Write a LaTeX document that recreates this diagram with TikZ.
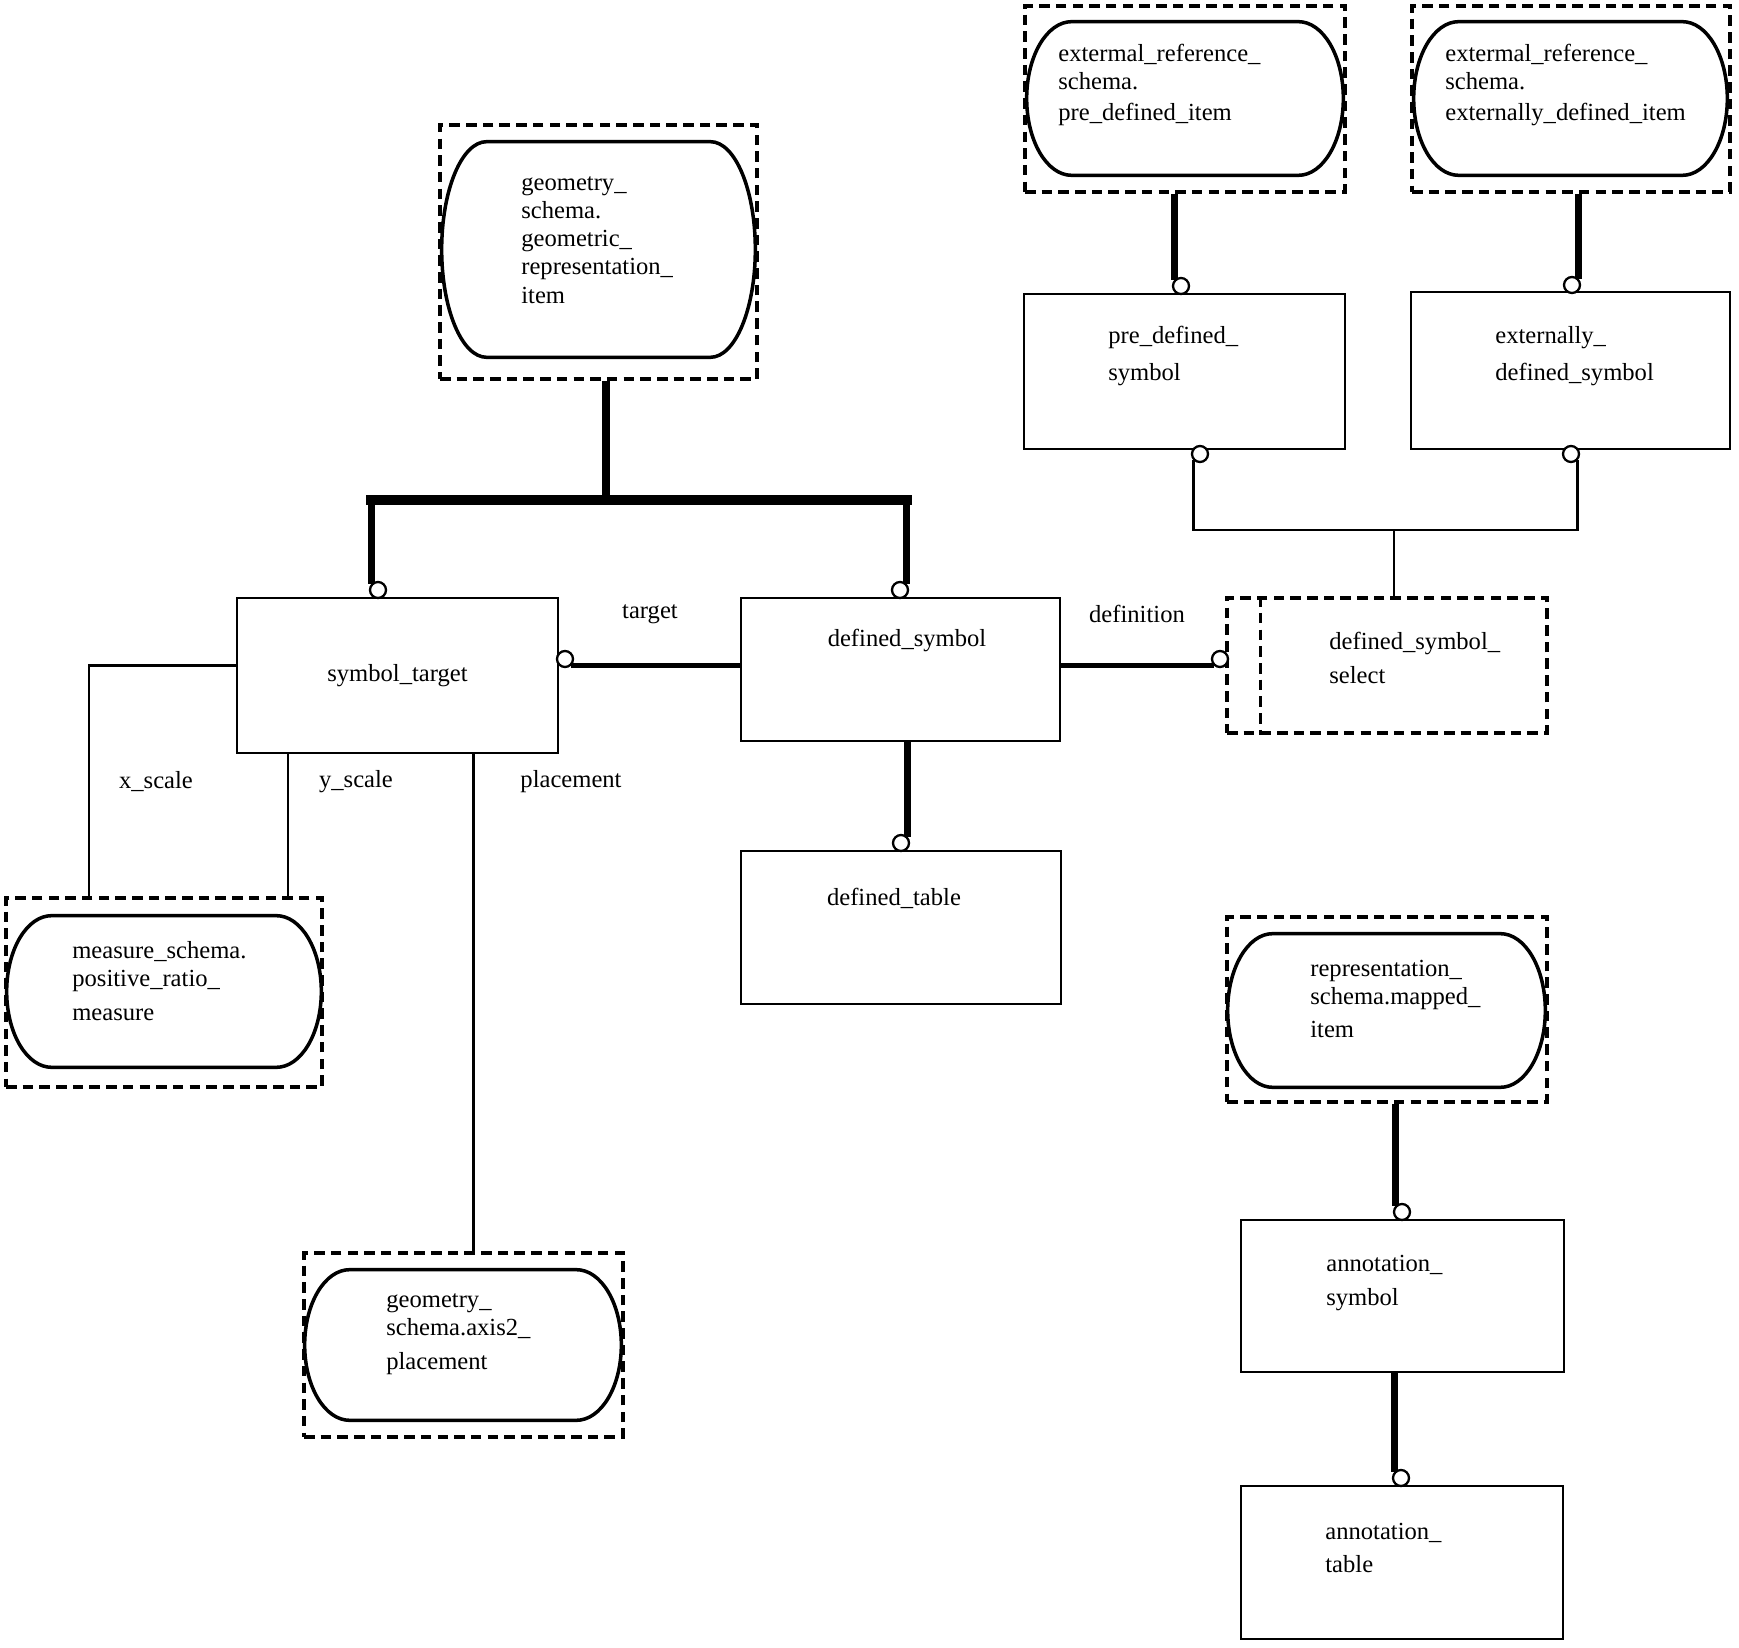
\documentclass[tikz,border=0pt]{standalone}
\usepackage{fontspec}
\setmainfont{Liberation Serif}
\usepackage{tikz}
\usetikzlibrary{calc}
\pgfdeclarelayer{bg}
\pgfsetlayers{bg,main}

\begin{document}
\begin{tikzpicture}[x=0.02cm,y=-0.02cm]
    \tikzstyle{every node}=[font=\fontsize{14}{16}\selectfont,inner sep=0pt]
    \tikzstyle{entity}=[draw,line width=1.6pt]
    \tikzstyle{extbox}=[draw,line width=2pt,dash pattern=on 6pt off 3.5pt]
    \tikzstyle{itembox}=[rectangle]
    \tikzstyle{itemline}=[line width=2pt]
    \tikzstyle{txt}=[anchor=west,align=left]
    \tikzstyle{ring}=[draw,circle,fill=white,line width=1.3pt,minimum size=0.32cm]
    \tikzstyle{heavy}=[line width=4pt]
    \tikzstyle{bar}=[line width=6pt]
    \tikzstyle{mid}=[line width=2.4pt]
    \tikzstyle{link}=[line width=1.4pt]
    \useasboundingbox (0,0) rectangle (1739,1648);

    % geometric representation item
    \node[extbox,minimum width=6.34cm,minimum height=5.08cm] (geomext) at (598.5,252) {};
    \node[itembox,minimum width=6.26cm,minimum height=4.3cm] (geomitem) at (598.5,249.5) {};
    \node[txt] (geomtxt) at (521,240) {geometry\_\\schema.\\geometric\_\\representation\_\\item};

    % pre defined item
    \node[extbox,minimum width=6.4cm,minimum height=3.72cm] (extpre) at (1185,99) {};
    \node[itembox,minimum width=6.32cm,minimum height=3.06cm] (preitem) at (1185,98.5) {};
    \node[txt] (pretxt) at (1058,85) {extermal\_reference\_\\schema.\\[2pt]pre\_defined\_item};

    % externally defined item
    \node[extbox,minimum width=6.36cm,minimum height=3.72cm] (extext) at (1571,99) {};
    \node[itembox,minimum width=6.26cm,minimum height=3.06cm] (extdefitem) at (1570.5,98.5) {};
    \node[txt] (exttxt) at (1445,85) {extermal\_reference\_\\schema.\\[2pt]externally\_defined\_item};

    % pre defined symbol
    \node[entity,minimum width=6.42cm,minimum height=3.1cm] (predef) at (1184.5,371.5) {};
    \node[txt] (predeftxt) at (1108,356) {pre\_defined\_\\[5pt]symbol};
    \node[ring] (pd-top) at (1181,286) {};
    \node[ring] (pd-bot) at (1200,454) {};

    % externally defined symbol
    \node[entity,minimum width=6.38cm,minimum height=3.14cm] (extdef) at (1570.5,370.5) {};
    \node[txt] (extdeftxt) at (1495,356) {externally\_\\[5pt]defined\_symbol};
    \node[ring] (ed-top) at (1572,285) {};
    \node[ring] (ed-bot) at (1571,454) {};

    % symbol target
    \node[entity,minimum width=6.42cm,minimum height=3.1cm] (symtarget) at (397.5,675.5) {symbol\_target};
    \node[ring] (st-top) at (378,590) {};
    \node[ring] (st-right) at (565,659) {};

    % defined symbol
    \node[entity,minimum width=6.38cm,minimum height=2.86cm] (defsym) at (900.5,669.5) {};
    \node (defsymtxt) at (907,640) {defined\_symbol};
    \node[ring] (ds-top) at (900,590) {};

    % defined symbol select
    \node[extbox,minimum width=6.4cm,minimum height=2.7cm] (defselect) at (1387,665.5) {};
    \draw[extbox] ([xshift=0.7cm]defselect.north west) -- ([xshift=0.7cm]defselect.south west);
    \node[txt] (defselecttxt) at (1329,658) {defined\_symbol\_\\[3pt]select};
    \node[ring] (sel-left) at (1220,659) {};

    % defined table
    \node[entity,minimum width=6.4cm,minimum height=3.06cm] (deftable) at (901,927.5) {};
    \node (deftabletxt) at (894,898) {defined\_table};
    \node[ring] (tb-top) at (901,843) {};

    % positive ratio measure
    \node[extbox,minimum width=6.32cm,minimum height=3.78cm] (measext) at (164,992.5) {};
    \node[itembox,minimum width=6.28cm,minimum height=3.02cm] (measitem) at (164,991.5) {};
    \node[txt] (meastxt) at (72,981) {measure\_schema.\\positive\_ratio\_\\[3pt]measure};

    % axis2 placement
    \node[extbox,minimum width=6.38cm,minimum height=3.68cm] (axisext) at (463.5,1345) {};
    \node[itembox,minimum width=6.32cm,minimum height=3.0cm] (axisitem) at (463,1345) {};
    \node[txt] (axistxt) at (386,1334) {geometry\_\\schema.axis2\_\\[3pt]placement};

    % mapped item
    \node[extbox,minimum width=6.4cm,minimum height=3.7cm] (mapext) at (1387,1009.5) {};
    \node[itembox,minimum width=6.34cm,minimum height=3.06cm] (mapitem) at (1386.5,1010.5) {};
    \node[txt] (maptxt) at (1310,999) {representation\_\\schema.mapped\_\\[3pt]item};

    % annotation symbol
    \node[entity,minimum width=6.46cm,minimum height=3.04cm] (annsym) at (1402.5,1296) {};
    \node[txt] (annsymtxt) at (1326,1283) {annotation\_\\[3pt]symbol};
    \node[ring] (an-top) at (1402,1212) {};

    % annotation table
    \node[entity,minimum width=6.44cm,minimum height=3.06cm] (anntable) at (1402,1562.5) {};
    \node[txt] (anntabletxt) at (1325,1548) {annotation\_\\[3pt]table};
    \node[ring] (at-top) at (1401,1478) {};

    % item outlines with elliptic ends
    \foreach \i in {geomitem,preitem,extdefitem,measitem,axisitem,mapitem}
        \draw[itemline] let \p1=(\i.north), \p2=(\i.south), \n1={0.5*(\y1-\y2)} in
            ([xshift=0.9cm]\i.north west) -- ([xshift=-0.9cm]\i.north east)
            arc[start angle=90,end angle=-90,x radius=0.9cm,y radius=\n1*1pt]
            -- ([xshift=0.9cm]\i.south west)
            arc[start angle=270,end angle=90,x radius=0.9cm,y radius=\n1*1pt] -- cycle;

    % role names
    \node (lbl-target) at (650,614) {target};
    \node (lbl-definition) at (1137,614) {definition};
    \node (lbl-xscale) at (156,782) {x\_scale};
    \node (lbl-yscale) at (356,782) {y\_scale};
    \node (lbl-placement) at (571,782) {placement};

    \begin{pgfonlayer}{bg}
    % supertype tree
    \coordinate (fork) at (606,500);
    \draw[heavy] (geomext.south -| fork) -- (fork);
    \draw[bar,line cap=rect] (st-top.north west |- fork) -- (ds-top.north east |- fork);
    \draw[heavy] (st-top.north west |- fork) -- (st-top.north west);
    \draw[heavy] (ds-top.north east |- fork) -- (ds-top.north east);

    % external items
    \draw[heavy] (pd-top.north west |- extpre.south) -- (pd-top.north west);
    \draw[heavy] (ed-top.north east |- extext.south) -- (ed-top.north east);

    % select tree
    \coordinate (join) at (1394,530);
    \draw[link] (pd-bot.south west) |- (join) -| (ed-bot.south east);
    \draw[link] (join) -- (join |- defselect.north);

    % target and definition
    \draw[mid] (st-right.south east) -- (st-right.south east -| defsym.west);
    \draw[mid] (sel-left.south west -| defsym.east) -- (sel-left.south west);

    % defined table
    \draw[heavy] (tb-top.north east |- defsym.south) -- (tb-top.north east);

    % scales and placement
    \draw[link] (symtarget.west |- st-right.south east) -| ([xshift=-1.5cm]measext.north);
    \draw[link] ([xshift=-2.19cm]symtarget.south) -- ([xshift=-2.19cm]symtarget.south |- measext.north);
    \draw[link] ([xshift=1.52cm]symtarget.south) -- ([xshift=1.52cm]symtarget.south |- axisext.north);

    % annotation
    \draw[heavy] (an-top.north west |- mapext.south) -- (an-top.north west);
    \draw[heavy] (at-top.north west |- annsym.south) -- (at-top.north west);
    \end{pgfonlayer}
\end{tikzpicture}
\end{document}
